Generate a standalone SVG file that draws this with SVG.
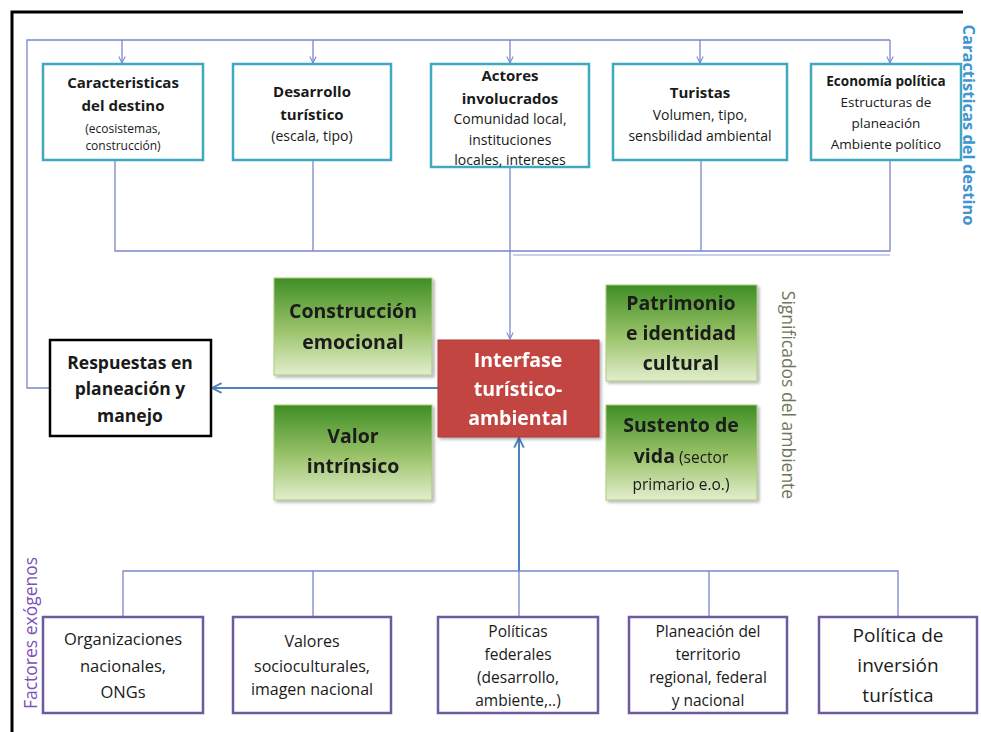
<svg xmlns="http://www.w3.org/2000/svg" width="981" height="732" viewBox="0 0 981 732">
<style>
text{font-family:"Open Sans",Lato,"Liberation Sans",sans-serif;text-anchor:middle;fill:#1a1a1a}
.b{font-weight:bold}
.teal{fill:#fff;stroke:#3fa9bf;stroke-width:2.5}
.purp{fill:#fff;stroke:#6e5a9e;stroke-width:2.5}
.grn{fill:url(#g);stroke:#a9c97a;stroke-width:1}
.con{fill:none;stroke:#7a86cc;stroke-width:1.3}
.main{fill:none;stroke:#4f81bd;stroke-width:2}
</style>
<defs>
<linearGradient id="g" x1="0" y1="0" x2="0" y2="1">
<stop offset="0" stop-color="#3f8e24"/>
<stop offset="0.55" stop-color="#9cc46c"/>
<stop offset="1" stop-color="#e2eecd"/>
</linearGradient>
<filter id="sh" x="-10%" y="-10%" width="130%" height="130%">
<feDropShadow dx="2" dy="2" stdDeviation="1.5" flood-color="#000" flood-opacity="0.3"/>
</filter>
<marker id="ah" viewBox="0 0 10 10" refX="9" refY="5" markerWidth="8" markerHeight="8" orient="auto" markerUnits="userSpaceOnUse">
<path d="M1,1 L9,5 L1,9" fill="none" stroke="#7a86cc" stroke-width="1.3"/>
</marker>
<marker id="ahm" viewBox="0 0 10 10" refX="9" refY="5" markerWidth="12" markerHeight="12" orient="auto" markerUnits="userSpaceOnUse">
<path d="M1,1 L9,5 L1,9" fill="none" stroke="#4f81bd" stroke-width="1.6"/>
</marker>
</defs>
<rect width="981" height="732" fill="#fff"/>
<path d="M12,732 L12,12 L963,12" fill="none" stroke="#000" stroke-width="3"/>

<g id="connectors">
<path class="con" d="M50,388 L27,388 L27,40 L890,40"/>
<path class="con" d="M122,40 L122,63" marker-end="url(#ah)"/>
<path class="con" d="M313,40 L313,63" marker-end="url(#ah)"/>
<path class="con" d="M510,40 L510,63" marker-end="url(#ah)"/>
<path class="con" d="M700,40 L700,63" marker-end="url(#ah)"/>
<path class="con" d="M890,40 L890,63" marker-end="url(#ah)"/>
<path class="con" d="M115,160 L115,251 L890,251 L890,160"/>
<path class="con" d="M313,160 L313,251"/>
<path class="con" d="M701,160 L701,251"/>
<path class="con" d="M513,255 L890,255" stroke-opacity="0.5"/>
<path class="con" d="M510,167 L510,339" marker-end="url(#ah)"/>
<path class="main" d="M438,388 L212,388" marker-end="url(#ahm)"/>
<path class="main" d="M519,571 L519,438" stroke-width="1.5" marker-end="url(#ahm)"/>
<path class="con" d="M123,617 L123,571 L898,571 L898,617"/>
<path class="con" d="M313,571 L313,617"/>
<path class="con" d="M709,571 L709,617"/>
<path class="con" d="M519,571 L519,617"/>
</g>

<g id="caracteristicas">
<rect class="teal" x="43" y="64" width="160" height="96"/>
<text class="b" x="123" y="88" font-size="15">Caracteristicas</text>
<text class="b" x="123" y="111" font-size="15">del destino</text>
<text x="123" y="133" font-size="12">(ecosistemas,</text>
<text x="123" y="150" font-size="12">construcción)</text>
</g>
<g id="desarrollo">
<rect class="teal" x="233" y="64" width="158" height="96"/>
<text class="b" x="312" y="97" font-size="15">Desarrollo</text>
<text class="b" x="312" y="120" font-size="15">turístico</text>
<text x="312" y="141" font-size="14">(escala, tipo)</text>
</g>
<g id="actores">
<rect class="teal" x="431" y="64" width="158" height="103"/>
<text class="b" x="510" y="81" font-size="15">Actores</text>
<text class="b" x="510" y="104" font-size="15">involucrados</text>
<text x="510" y="124" font-size="14">Comunidad local,</text>
<text x="510" y="145" font-size="14">instituciones</text>
<text x="510" y="165" font-size="14">locales, intereses</text>
</g>
<g id="turistas">
<rect class="teal" x="613" y="64" width="174" height="96"/>
<text class="b" x="700" y="98" font-size="15">Turistas</text>
<text x="700" y="120" font-size="14">Volumen, tipo,</text>
<text x="700" y="141" font-size="14">sensbilidad ambiental</text>
</g>
<g id="economia">
<rect class="teal" x="811" y="64" width="150" height="96"/>
<text class="b" x="886" y="86" font-size="13.5">Economía política</text>
<text x="886" y="107" font-size="13.5">Estructuras de</text>
<text x="886" y="128" font-size="13.5">planeación</text>
<text x="886" y="149" font-size="13.5">Ambiente político</text>
</g>

<g id="respuestas">
<rect x="50" y="340" width="161" height="96" fill="#fff" stroke="#000" stroke-width="2.5"/>
<text class="b" x="130" y="369" font-size="17.5">Respuestas en</text>
<text class="b" x="130" y="395" font-size="17.5">planeación y</text>
<text class="b" x="130" y="422" font-size="17.5">manejo</text>
</g>

<g id="construccion" filter="url(#sh)">
<rect class="grn" x="274" y="278" width="158" height="97"/>
<text class="b" x="353" y="318" font-size="19.5">Construcción</text>
<text class="b" x="353" y="349" font-size="19.5">emocional</text>
</g>
<g id="valor" filter="url(#sh)">
<rect class="grn" x="274" y="405" width="158" height="95"/>
<text class="b" x="353" y="443" font-size="19.5">Valor</text>
<text class="b" x="353" y="473" font-size="19.5">intrínsico</text>
</g>
<g id="interfase" filter="url(#sh)">
<rect x="438" y="340" width="161" height="97" fill="#c24542" stroke="#a83a38" stroke-width="1"/>
<text class="b" x="518" y="367" font-size="19.5" style="fill:#fff">Interfase</text>
<text class="b" x="518" y="396" font-size="19.5" style="fill:#fff">turístico-</text>
<text class="b" x="518" y="425" font-size="19.5" style="fill:#fff">ambiental</text>
</g>
<g id="patrimonio" filter="url(#sh)">
<rect class="grn" x="606" y="285" width="151" height="96"/>
<text class="b" x="681" y="310" font-size="19.5">Patrimonio</text>
<text class="b" x="681" y="340" font-size="19.5">e identidad</text>
<text class="b" x="681" y="370" font-size="19.5">cultural</text>
</g>
<g id="sustento" filter="url(#sh)">
<rect class="grn" x="606" y="405" width="151" height="95"/>
<text class="b" x="681" y="432" font-size="19.5">Sustento de</text>
<text x="681" y="463" font-size="19.5"><tspan font-weight="bold">vida</tspan><tspan font-size="15.5"> (sector</tspan></text>
<text x="681" y="490" font-size="15.5">primario e.o.)</text>
</g>

<g id="organizaciones">
<rect class="purp" x="43" y="617" width="160" height="96"/>
<text x="123" y="645" font-size="16.5">Organizaciones</text>
<text x="123" y="672" font-size="16.5">nacionales,</text>
<text x="123" y="698" font-size="16.5">ONGs</text>
</g>
<g id="valores">
<rect class="purp" x="233" y="617" width="158" height="96"/>
<text x="312" y="647" font-size="16">Valores</text>
<text x="312" y="672" font-size="16">socioculturales,</text>
<text x="312" y="695" font-size="16">imagen nacional</text>
</g>
<g id="politicas">
<rect class="purp" x="438" y="617" width="160" height="96"/>
<text x="518" y="637" font-size="15.5">Políticas</text>
<text x="518" y="660" font-size="15.5">federales</text>
<text x="518" y="683" font-size="15.5">(desarrollo,</text>
<text x="518" y="706" font-size="15.5">ambiente,..)</text>
</g>
<g id="planeacion">
<rect class="purp" x="629" y="617" width="158" height="96"/>
<text x="708" y="637" font-size="15.5">Planeación del</text>
<text x="708" y="660" font-size="15.5">territorio</text>
<text x="708" y="683" font-size="15.5">regional, federal</text>
<text x="708" y="706" font-size="15.5">y nacional</text>
</g>
<g id="inversion">
<rect class="purp" x="819" y="617" width="158" height="96"/>
<text x="898" y="642" font-size="19">Política de</text>
<text x="898" y="672" font-size="19">inversión</text>
<text x="898" y="702" font-size="19">turística</text>
</g>

<g id="labels">
<text class="b" transform="translate(963,125) rotate(90)" font-size="16.5" style="fill:#3e95cf">Caractisticas del destino</text>
<text transform="translate(782,395) rotate(90)" font-size="17.5" style="fill:#6f7657">Significados del ambiente</text>
<text transform="translate(37,633) rotate(-90)" font-size="17.5" style="fill:#7b52b8">Factores exógenos</text>
</g>
</svg>
